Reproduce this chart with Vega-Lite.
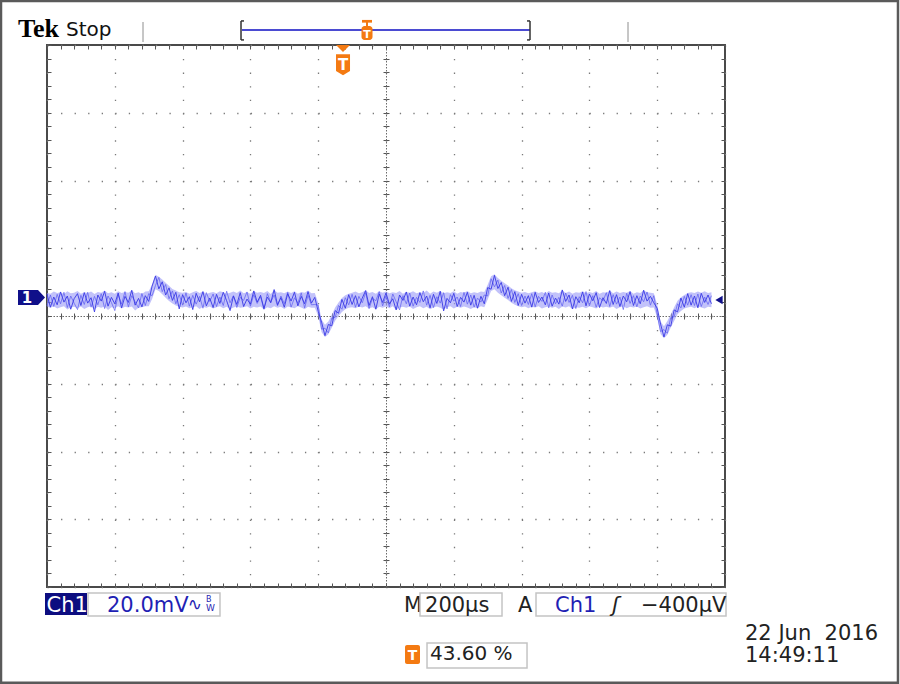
{
"$schema": "https://vega.github.io/schema/vega-lite/v6.json",
"width": 678, "height": 542,
"autosize": "none",
"padding": {"left": 47, "top": 45, "right": 175, "bottom": 97},
"background": "#ffffff",
"config": {"view": {"stroke": "#4a4a4a", "strokeWidth": 2}, "font": "DejaVu Sans"},
"datasets": {"trace": [
{"t":0,"v":6.5,"w":3.0,"lo":2.8,"hi":6.9},{"t":10,"v":2.6,"w":6.2,"lo":2.4,"hi":6.6},{"t":20,"v":5.6,"w":2.8,"lo":2.9,"hi":7.2},{"t":30,"v":3.3,"w":6.4,"lo":2.2,"hi":6.8},{"t":40,"v":7.1,"w":3.6,"lo":2.6,"hi":7.0},{"t":50,"v":4.1,"w":7.0,"lo":2.9,"hi":6.5},{"t":60,"v":5.9,"w":2.5,"lo":1.9,"hi":7.3},{"t":70,"v":2.0,"w":5.9,"lo":2.5,"hi":6.7},{"t":80,"v":5.1,"w":3.8,"lo":2.7,"hi":6.9},{"t":90,"v":6.6,"w":1.9,"lo":2.3,"hi":7.4},
{"t":100,"v":3.1,"w":6.1,"lo":2.8,"hi":6.6},{"t":110,"v":6.9,"w":3.4,"lo":2.1,"hi":7.0},{"t":120,"v":3.8,"w":7.0,"lo":2.6,"hi":6.8},{"t":130,"v":5.4,"w":2.6,"lo":2.9,"hi":7.2},{"t":140,"v":1.2,"w":5.8,"lo":2.0,"hi":6.5},{"t":150,"v":6.2,"w":3.3,"lo":2.7,"hi":7.1},{"t":160,"v":4.4,"w":6.6,"lo":2.4,"hi":6.9},{"t":170,"v":7.3,"w":2.2,"lo":2.8,"hi":7.5},{"t":180,"v":2.9,"w":5.9,"lo":1.8,"hi":6.7},{"t":190,"v":5.5,"w":4.0,"lo":2.6,"hi":7.0},
{"t":200,"v":3.6,"w":1.6,"lo":2.3,"hi":6.6},{"t":210,"v":6.8,"w":6.3,"lo":2.9,"hi":7.3},{"t":220,"v":2.4,"w":3.5,"lo":2.2,"hi":6.8},{"t":230,"v":5.8,"w":7.2,"lo":2.7,"hi":7.1},{"t":240,"v":4.0,"w":2.7,"lo":2.5,"hi":6.9},{"t":250,"v":7.6,"w":6.0,"lo":2.8,"hi":7.6},{"t":260,"v":3.2,"w":4.2,"lo":1.6,"hi":6.7},{"t":270,"v":5.2,"w":2.4,"lo":2.4,"hi":7.0},{"t":280,"v":2.7,"w":6.7,"lo":2.6,"hi":6.5},{"t":290,"v":6.0,"w":3.1,"lo":2.9,"hi":7.2},
{"t":300,"v":4.3,"w":6.6,"lo":2.9,"hi":7.3},{"t":310,"v":8.8,"w":6.0,"lo":5.0,"hi":9.3},{"t":320,"v":11.8,"w":9.0,"lo":7.9,"hi":12.2},{"t":330,"v":8.0,"w":11.4,"lo":7.4,"hi":11.6},{"t":340,"v":10.1,"w":7.2,"lo":6.4,"hi":10.8},{"t":350,"v":6.2,"w":9.3,"lo":5.4,"hi":9.8},{"t":360,"v":8.3,"w":5.1,"lo":4.4,"hi":8.9},{"t":370,"v":4.6,"w":7.4,"lo":3.7,"hi":8.0},{"t":380,"v":7.0,"w":3.6,"lo":3.1,"hi":7.5},{"t":390,"v":2.1,"w":6.3,"lo":2.7,"hi":7.0},
{"t":400,"v":6.3,"w":3.2,"lo":2.5,"hi":6.9},{"t":410,"v":3.9,"w":6.8,"lo":2.8,"hi":7.1},{"t":420,"v":5.7,"w":2.9,"lo":2.3,"hi":6.6},{"t":430,"v":1.9,"w":6.1,"lo":2.6,"hi":7.0},{"t":440,"v":6.7,"w":3.5,"lo":2.9,"hi":7.4},{"t":450,"v":4.2,"w":5.8,"lo":2.1,"hi":6.8},{"t":460,"v":7.2,"w":2.3,"lo":2.7,"hi":7.2},{"t":470,"v":3.0,"w":6.9,"lo":2.4,"hi":6.5},{"t":480,"v":5.3,"w":4.3,"lo":2.8,"hi":6.9},{"t":490,"v":2.5,"w":6.5,"lo":2.2,"hi":7.1},
{"t":500,"v":6.4,"w":2.8,"lo":2.6,"hi":6.7},{"t":510,"v":3.7,"w":5.6,"lo":2.9,"hi":7.3},{"t":520,"v":7.0,"w":3.1,"lo":2.3,"hi":7.0},{"t":530,"v":4.5,"w":7.3,"lo":2.7,"hi":6.6},{"t":540,"v":1.6,"w":3.9,"lo":2.0,"hi":6.9},{"t":550,"v":5.9,"w":6.0,"lo":2.5,"hi":7.2},{"t":560,"v":3.4,"w":2.5,"lo":2.8,"hi":6.8},{"t":570,"v":6.9,"w":5.5,"lo":2.4,"hi":7.5},{"t":580,"v":2.8,"w":4.6,"lo":2.6,"hi":6.7},{"t":590,"v":5.0,"w":7.1,"lo":2.9,"hi":7.0},
{"t":600,"v":3.5,"w":2.9,"lo":2.2,"hi":6.6},{"t":610,"v":7.4,"w":6.3,"lo":2.7,"hi":7.3},{"t":620,"v":4.1,"w":3.7,"lo":2.5,"hi":6.9},{"t":630,"v":6.1,"w":5.7,"lo":2.8,"hi":7.1},{"t":640,"v":2.2,"w":2.0,"lo":1.9,"hi":6.8},{"t":650,"v":5.6,"w":6.6,"lo":2.6,"hi":7.4},{"t":660,"v":3.9,"w":4.1,"lo":2.3,"hi":6.5},{"t":670,"v":7.8,"w":6.2,"lo":2.9,"hi":7.7},{"t":680,"v":3.3,"w":3.0,"lo":2.4,"hi":6.9},{"t":690,"v":5.4,"w":5.9,"lo":2.7,"hi":7.0},
{"t":700,"v":2.6,"w":3.6,"lo":2.1,"hi":6.7},{"t":710,"v":6.6,"w":7.0,"lo":2.8,"hi":7.2},{"t":720,"v":4.4,"w":2.6,"lo":2.6,"hi":6.8},{"t":730,"v":7.0,"w":5.4,"lo":2.3,"hi":7.3},{"t":740,"v":3.0,"w":3.8,"lo":2.9,"hi":6.6},{"t":750,"v":5.8,"w":6.8,"lo":2.5,"hi":7.1},{"t":760,"v":3.6,"w":2.4,"lo":2.0,"hi":6.9},{"t":770,"v":7.2,"w":6.1,"lo":2.7,"hi":7.5},{"t":780,"v":3.8,"w":3.3,"lo":2.4,"hi":6.7},{"t":790,"v":5.5,"w":3.4,"lo":2.4,"hi":6.8},
{"t":800,"v":1.4,"w":3.2,"lo":0.0,"hi":3.9},{"t":810,"v":-1.8,"w":-3.9,"lo":-4.8,"hi":-1.0},{"t":820,"v":-5.8,"w":-3.6,"lo":-6.2,"hi":-2.6},{"t":830,"v":-2.5,"w":-5.0,"lo":-5.4,"hi":-1.6},{"t":840,"v":-2.9,"w":-0.6,"lo":-3.5,"hi":0.4},{"t":850,"v":1.6,"w":-0.4,"lo":-1.4,"hi":2.5},{"t":860,"v":0.8,"w":3.1,"lo":0.0,"hi":4.0},{"t":870,"v":4.9,"w":2.0,"lo":1.2,"hi":5.3},{"t":880,"v":2.3,"w":5.4,"lo":2.0,"hi":6.1},{"t":890,"v":6.3,"w":3.3,"lo":2.4,"hi":6.6},
{"t":900,"v":3.4,"w":6.4,"lo":2.6,"hi":6.9},{"t":910,"v":6.0,"w":2.6,"lo":2.3,"hi":7.2},{"t":920,"v":2.7,"w":5.8,"lo":2.8,"hi":6.7},{"t":930,"v":5.3,"w":3.9,"lo":2.5,"hi":7.0},{"t":940,"v":7.5,"w":6.9,"lo":2.9,"hi":7.6},{"t":950,"v":3.1,"w":2.2,"lo":2.2,"hi":6.8},{"t":960,"v":5.7,"w":5.2,"lo":2.6,"hi":7.1},{"t":970,"v":2.0,"w":4.5,"lo":2.0,"hi":6.6},{"t":980,"v":6.5,"w":7.2,"lo":2.7,"hi":7.3},{"t":990,"v":4.0,"w":3.0,"lo":2.4,"hi":6.9},
{"t":1000,"v":6.8,"w":5.9,"lo":2.8,"hi":7.2},{"t":1010,"v":3.5,"w":2.7,"lo":2.3,"hi":6.7},{"t":1020,"v":5.1,"w":6.5,"lo":2.9,"hi":7.0},{"t":1030,"v":1.8,"w":4.2,"lo":1.8,"hi":6.8},{"t":1040,"v":6.2,"w":1.8,"lo":2.5,"hi":7.4},{"t":1050,"v":4.6,"w":6.0,"lo":2.7,"hi":6.6},{"t":1060,"v":7.1,"w":3.6,"lo":2.4,"hi":7.1},{"t":1070,"v":2.9,"w":6.8,"lo":2.8,"hi":6.9},{"t":1080,"v":5.6,"w":2.9,"lo":2.1,"hi":7.3},{"t":1090,"v":3.3,"w":5.5,"lo":2.6,"hi":6.7},
{"t":1100,"v":6.9,"w":4.0,"lo":2.9,"hi":7.0},{"t":1110,"v":4.2,"w":7.4,"lo":2.3,"hi":6.8},{"t":1120,"v":5.9,"w":3.2,"lo":2.7,"hi":7.5},{"t":1130,"v":2.4,"w":6.1,"lo":2.0,"hi":6.6},{"t":1140,"v":6.4,"w":2.5,"lo":2.5,"hi":7.2},{"t":1150,"v":3.7,"w":5.7,"lo":2.8,"hi":6.9},{"t":1160,"v":7.3,"w":3.8,"lo":2.4,"hi":7.4},{"t":1170,"v":1.5,"w":6.9,"lo":1.9,"hi":6.7},{"t":1180,"v":5.2,"w":2.1,"lo":2.6,"hi":7.0},{"t":1190,"v":3.9,"w":6.3,"lo":2.9,"hi":6.8},
{"t":1200,"v":6.7,"w":4.4,"lo":2.2,"hi":7.3},{"t":1210,"v":2.8,"w":5.6,"lo":2.7,"hi":6.6},{"t":1220,"v":5.5,"w":2.8,"lo":2.4,"hi":7.1},{"t":1230,"v":4.1,"w":7.0,"lo":2.8,"hi":6.9},{"t":1240,"v":7.0,"w":3.5,"lo":2.5,"hi":7.4},{"t":1250,"v":3.2,"w":6.2,"lo":2.1,"hi":6.7},{"t":1260,"v":6.1,"w":2.6,"lo":2.6,"hi":7.0},{"t":1270,"v":2.3,"w":5.3,"lo":2.3,"hi":6.8},{"t":1280,"v":5.8,"w":4.1,"lo":2.9,"hi":7.2},{"t":1290,"v":3.6,"w":6.2,"lo":2.6,"hi":7.1},
{"t":1300,"v":8.4,"w":5.9,"lo":4.9,"hi":9.2},{"t":1310,"v":7.9,"w":11.0,"lo":7.4,"hi":11.7},{"t":1320,"v":12.0,"w":8.6,"lo":7.9,"hi":12.3},{"t":1330,"v":8.1,"w":10.6,"lo":6.9,"hi":11.2},{"t":1340,"v":9.9,"w":6.8,"lo":6.1,"hi":10.4},{"t":1350,"v":6.0,"w":9.0,"lo":5.4,"hi":9.7},{"t":1360,"v":8.5,"w":5.2,"lo":4.7,"hi":9.0},{"t":1370,"v":4.3,"w":7.8,"lo":3.9,"hi":8.2},{"t":1380,"v":7.2,"w":4.0,"lo":3.3,"hi":7.6},{"t":1390,"v":3.1,"w":6.6,"lo":2.9,"hi":7.2},
{"t":1400,"v":6.4,"w":3.1,"lo":2.6,"hi":6.9},{"t":1410,"v":3.8,"w":5.9,"lo":2.8,"hi":7.1},{"t":1420,"v":6.0,"w":3.4,"lo":2.3,"hi":6.7},{"t":1430,"v":2.6,"w":6.6,"lo":2.7,"hi":7.0},{"t":1440,"v":7.0,"w":2.7,"lo":2.5,"hi":7.3},{"t":1450,"v":4.0,"w":5.8,"lo":2.9,"hi":6.8},{"t":1460,"v":5.6,"w":4.3,"lo":2.2,"hi":7.1},{"t":1470,"v":3.3,"w":7.0,"lo":2.6,"hi":6.6},{"t":1480,"v":6.8,"w":2.4,"lo":2.8,"hi":7.4},{"t":1490,"v":2.9,"w":6.2,"lo":2.4,"hi":6.9},
{"t":1500,"v":5.3,"w":3.6,"lo":2.7,"hi":7.0},{"t":1510,"v":3.5,"w":5.5,"lo":2.1,"hi":6.7},{"t":1520,"v":7.7,"w":2.9,"lo":2.8,"hi":7.6},{"t":1530,"v":4.3,"w":6.8,"lo":2.5,"hi":6.8},{"t":1540,"v":6.2,"w":4.0,"lo":2.9,"hi":7.2},{"t":1550,"v":2.1,"w":6.1,"lo":2.0,"hi":6.6},{"t":1560,"v":5.7,"w":2.2,"lo":2.6,"hi":7.0},{"t":1570,"v":3.9,"w":5.7,"lo":2.4,"hi":6.9},{"t":1580,"v":7.1,"w":3.9,"lo":2.7,"hi":7.3},{"t":1590,"v":3.0,"w":7.2,"lo":2.3,"hi":6.7},
{"t":1600,"v":6.5,"w":3.0,"lo":2.8,"hi":7.1},{"t":1610,"v":4.5,"w":6.0,"lo":2.6,"hi":6.8},{"t":1620,"v":6.9,"w":2.6,"lo":2.2,"hi":7.4},{"t":1630,"v":2.5,"w":5.4,"lo":2.9,"hi":6.6},{"t":1640,"v":5.4,"w":4.4,"lo":2.5,"hi":7.0},{"t":1650,"v":3.7,"w":6.9,"lo":2.7,"hi":6.9},{"t":1660,"v":7.5,"w":2.8,"lo":2.4,"hi":7.5},{"t":1670,"v":3.4,"w":6.3,"lo":2.8,"hi":6.7},{"t":1680,"v":6.3,"w":3.5,"lo":2.1,"hi":7.2},{"t":1690,"v":2.8,"w":5.6,"lo":2.6,"hi":6.8},
{"t":1700,"v":5.9,"w":1.9,"lo":2.9,"hi":7.1},{"t":1710,"v":4.2,"w":6.7,"lo":2.3,"hi":6.9},{"t":1720,"v":7.2,"w":3.7,"lo":2.7,"hi":7.4},{"t":1730,"v":3.1,"w":6.0,"lo":2.5,"hi":6.6},{"t":1740,"v":6.0,"w":2.7,"lo":2.8,"hi":7.0},{"t":1750,"v":3.6,"w":5.9,"lo":2.2,"hi":6.8},{"t":1760,"v":7.6,"w":4.2,"lo":2.6,"hi":7.6},{"t":1770,"v":4.4,"w":7.1,"lo":2.9,"hi":7.0},{"t":1780,"v":5.8,"w":3.2,"lo":2.4,"hi":6.9},{"t":1790,"v":3.9,"w":6.0,"lo":2.5,"hi":6.7},
{"t":1800,"v":2.3,"w":0.4,"lo":-0.5,"hi":3.4},{"t":1810,"v":-2.4,"w":-4.6,"lo":-5.3,"hi":-1.6},{"t":1820,"v":-6.2,"w":-4.0,"lo":-6.6,"hi":-3.0},{"t":1830,"v":-2.6,"w":-5.1,"lo":-5.5,"hi":-1.5},{"t":1840,"v":-3.0,"w":-0.5,"lo":-3.4,"hi":0.5},{"t":1850,"v":1.8,"w":-0.2,"lo":-1.5,"hi":2.6},{"t":1860,"v":1.2,"w":3.6,"lo":0.5,"hi":4.5},{"t":1870,"v":5.3,"w":2.4,"lo":1.5,"hi":5.5},{"t":1880,"v":2.6,"w":5.8,"lo":2.2,"hi":6.2},{"t":1890,"v":6.6,"w":3.2,"lo":2.5,"hi":6.8},
{"t":1900,"v":3.2,"w":6.3,"lo":2.7,"hi":7.0},{"t":1910,"v":5.9,"w":3.1,"lo":2.3,"hi":6.8},{"t":1920,"v":2.4,"w":6.5,"lo":2.8,"hi":7.2},{"t":1930,"v":6.7,"w":2.8,"lo":2.5,"hi":6.9},{"t":1940,"v":4.0,"w":5.6,"lo":2.2,"hi":7.3},{"t":1950,"v":6.2,"w":3.4,"lo":2.7,"hi":6.8},{"t":1960,"v":3.6,"w":6.0,"lo":2.6,"hi":7.0}
]},
"resolve": {"scale": {"x": "shared", "y": "shared"}, "axis": {"x": "independent", "y": "independent"}},
"layer": [
{"data": {"name": "trace"},
 "mark": {"type": "area", "color": "#9a9af7", "opacity": 0.6},
 "encoding": {
  "x": {"field": "t", "type": "quantitative", "scale": {"domain": [0, 2000], "nice": false, "zero": false},
        "axis": {"orient": "bottom", "values": [0,200,400,600,800,1000,1200,1400,1600,1800,2000], "grid": true, "gridColor": "#7a7a7a", "gridWidth": 1.3, "gridDash": [1.3, 12.25], "domain": false, "ticks": false, "labels": false, "title": null}},
  "y": {"field": "lo", "type": "quantitative", "scale": {"domain": [-80, 80], "nice": false, "zero": false},
        "axis": {"orient": "left", "values": [-80,-60,-40,-20,0,20,40,60,80], "grid": true, "gridColor": "#7a7a7a", "gridWidth": 1.3, "gridDash": [1.3, 12.25], "domain": false, "ticks": false, "labels": false, "title": null}},
  "y2": {"field": "hi"}}},
{"data": {"name": "trace"},
 "mark": {"type": "line", "color": "#6262f0", "strokeWidth": 1, "opacity": 0.75},
 "encoding": {
  "x": {"field": "t", "type": "quantitative",
        "axis": {"orient": "bottom", "values": [0,40,80,120,160,200,240,280,320,360,400,440,480,520,560,600,640,680,720,760,800,840,880,920,960,1000,1040,1080,1120,1160,1200,1240,1280,1320,1360,1400,1440,1480,1520,1560,1600,1640,1680,1720,1760,1800,1840,1880,1920,1960,2000], "grid": false, "domain": false, "ticks": true, "tickSize": -4, "tickColor": "#555555", "tickWidth": 1, "labels": false, "title": null}},
  "y": {"field": "w", "type": "quantitative",
        "axis": {"orient": "left", "values": [-80,-76,-72,-68,-64,-60,-56,-52,-48,-44,-40,-36,-32,-28,-24,-20,-16,-12,-8,-4,0,4,8,12,16,20,24,28,32,36,40,44,48,52,56,60,64,68,72,76,80], "grid": false, "domain": false, "ticks": true, "tickSize": -4, "tickColor": "#555555", "tickWidth": 1, "labels": false, "title": null}}}},
{"data": {"name": "trace"},
 "mark": {"type": "line", "color": "#3838e4", "strokeWidth": 1, "opacity": 0.9},
 "encoding": {
  "x": {"field": "t", "type": "quantitative", "axis": null},
  "y": {"field": "v", "type": "quantitative", "axis": null}}},
{"data": {"values": [{}]},
 "mark": {"type": "rect", "filled": false, "stroke": "#5a5a5a", "strokeWidth": 2.5},
 "encoding": {
  "x": {"datum": -135.7, "type": "quantitative",
        "axis": {"orient": "top", "values": [0,40,80,120,160,200,240,280,320,360,400,440,480,520,560,600,640,680,720,760,800,840,880,920,960,1000,1040,1080,1120,1160,1200,1240,1280,1320,1360,1400,1440,1480,1520,1560,1600,1640,1680,1720,1760,1800,1840,1880,1920,1960,2000], "grid": false, "domain": false, "ticks": true, "tickSize": -4, "tickColor": "#555555", "tickWidth": 1, "labels": false, "title": null}},
  "x2": {"datum": 2510.3},
  "y": {"datum": 93.0, "type": "quantitative",
        "axis": {"orient": "right", "values": [-80,-76,-72,-68,-64,-60,-56,-52,-48,-44,-40,-36,-32,-28,-24,-20,-16,-12,-8,-4,0,4,8,12,16,20,24,28,32,36,40,44,48,52,56,60,64,68,72,76,80], "grid": false, "domain": false, "ticks": true, "tickSize": -4, "tickColor": "#555555", "tickWidth": 1, "labels": false, "title": null}},
  "y2": {"datum": -108.3}}},
{"data": {"values": [{}]},
 "mark": {"type": "text", "text": "Tek", "font": "Liberation Serif", "fontSize": 26, "fontWeight": "bold", "align": "left", "baseline": "alphabetic", "color": "#000000"},
 "encoding": {
  "x": {"datum": -85.5, "type": "quantitative",
        "axis": {"orient": "bottom", "offset": -271, "values": [0,40,80,120,160,200,240,280,320,360,400,440,480,520,560,600,640,680,720,760,800,840,880,920,960,1000,1040,1080,1120,1160,1200,1240,1280,1320,1360,1400,1440,1480,1520,1560,1600,1640,1680,1720,1760,1800,1840,1880,1920,1960,2000], "grid": false, "domain": true, "domainColor": "#6a6a6a", "domainWidth": 1, "domainDash": [1.5, 1.5], "ticks": true, "tickSize": 3, "tickColor": "#555555", "tickWidth": 1, "labels": false, "title": null}},
  "y": {"datum": 82.3, "type": "quantitative",
        "axis": {"orient": "left", "offset": -339, "values": [-80,-76,-72,-68,-64,-60,-56,-52,-48,-44,-40,-36,-32,-28,-24,-20,-16,-12,-8,-4,0,4,8,12,16,20,24,28,32,36,40,44,48,52,56,60,64,68,72,76,80], "grid": false, "domain": true, "domainColor": "#6a6a6a", "domainWidth": 1, "domainDash": [1.5, 1.5], "ticks": true, "tickSize": 3, "tickColor": "#555555", "tickWidth": 1, "labels": false, "title": null}}}},
{"data": {"values": [{}]},
 "mark": {"type": "text", "text": "Stop", "fontSize": 20, "align": "left", "baseline": "alphabetic", "color": "#111111"},
 "encoding": {
  "x": {"datum": 56.0, "type": "quantitative",
        "axis": {"orient": "top", "offset": -271, "values": [0,40,80,120,160,200,240,280,320,360,400,440,480,520,560,600,640,680,720,760,800,840,880,920,960,1000,1040,1080,1120,1160,1200,1240,1280,1320,1360,1400,1440,1480,1520,1560,1600,1640,1680,1720,1760,1800,1840,1880,1920,1960,2000], "grid": false, "domain": false, "ticks": true, "tickSize": 3, "tickColor": "#555555", "tickWidth": 1, "labels": false, "title": null}},
  "y": {"datum": 82.7, "type": "quantitative",
        "axis": {"orient": "right", "offset": -339, "values": [-80,-76,-72,-68,-64,-60,-56,-52,-48,-44,-40,-36,-32,-28,-24,-20,-16,-12,-8,-4,0,4,8,12,16,20,24,28,32,36,40,44,48,52,56,60,64,68,72,76,80], "grid": false, "domain": false, "ticks": true, "tickSize": 3, "tickColor": "#555555", "tickWidth": 1, "labels": false, "title": null}}}},
{"data": {"values": [{}]}, "mark": {"type": "rule", "color": "#b4b4b4", "strokeWidth": 1.5},
 "encoding": {"x": {"datum": 283.2, "type": "quantitative", "axis": null}, "y": {"datum": 86.8, "type": "quantitative", "axis": null}, "y2": {"datum": 80.9}}},
{"data": {"values": [{}]}, "mark": {"type": "rule", "color": "#b4b4b4", "strokeWidth": 1.5},
 "encoding": {"x": {"datum": 1713.9, "type": "quantitative", "axis": null}, "y": {"datum": 86.8, "type": "quantitative", "axis": null}, "y2": {"datum": 80.9}}},
{"data": {"values": [{}]}, "mark": {"type": "rule", "color": "#4b4bd2", "strokeWidth": 2},
 "encoding": {"x": {"datum": 575.2, "type": "quantitative", "axis": null}, "x2": {"datum": 1424.8}, "y": {"datum": 84.4, "type": "quantitative", "axis": null}}},
{"data": {"values": [{}]}, "mark": {"type": "rule", "color": "#333333", "strokeWidth": 1.5},
 "encoding": {"x": {"datum": 572.3, "type": "quantitative", "axis": null}, "y": {"datum": 87.1, "type": "quantitative", "axis": null}, "y2": {"datum": 81.5}}},
{"data": {"values": [{}]}, "mark": {"type": "rule", "color": "#333333", "strokeWidth": 1.5},
 "encoding": {"x": {"datum": 572.3, "type": "quantitative", "axis": null}, "x2": {"datum": 581.1}, "y": {"datum": 87.1, "type": "quantitative", "axis": null}}},
{"data": {"values": [{}]}, "mark": {"type": "rule", "color": "#333333", "strokeWidth": 1.5},
 "encoding": {"x": {"datum": 572.3, "type": "quantitative", "axis": null}, "x2": {"datum": 581.1}, "y": {"datum": 81.5, "type": "quantitative", "axis": null}}},
{"data": {"values": [{}]}, "mark": {"type": "rule", "color": "#333333", "strokeWidth": 1.5},
 "encoding": {"x": {"datum": 1424.8, "type": "quantitative", "axis": null}, "y": {"datum": 87.1, "type": "quantitative", "axis": null}, "y2": {"datum": 81.5}}},
{"data": {"values": [{}]}, "mark": {"type": "rule", "color": "#333333", "strokeWidth": 1.5},
 "encoding": {"x": {"datum": 1416.0, "type": "quantitative", "axis": null}, "x2": {"datum": 1424.8}, "y": {"datum": 87.1, "type": "quantitative", "axis": null}}},
{"data": {"values": [{}]}, "mark": {"type": "rule", "color": "#333333", "strokeWidth": 1.5},
 "encoding": {"x": {"datum": 1416.0, "type": "quantitative", "axis": null}, "x2": {"datum": 1424.8}, "y": {"datum": 81.5, "type": "quantitative", "axis": null}}},
{"data": {"values": [{}]}, "mark": {"type": "rect", "color": "#f47a12"},
 "encoding": {"x": {"datum": 929.2, "type": "quantitative", "axis": null}, "x2": {"datum": 958.7}, "y": {"datum": 87.4, "type": "quantitative", "axis": null}, "y2": {"datum": 86.6}}},
{"data": {"values": [{}]}, "mark": {"type": "rect", "color": "#f47a12"},
 "encoding": {"x": {"datum": 941.0, "type": "quantitative", "axis": null}, "x2": {"datum": 946.9}, "y": {"datum": 86.8, "type": "quantitative", "axis": null}, "y2": {"datum": 85.6}}},
{"data": {"values": [{}]}, "mark": {"type": "rect", "color": "#f47a12", "cornerRadius": 3},
 "encoding": {"x": {"datum": 927.7, "type": "quantitative", "axis": null}, "x2": {"datum": 960.2}, "y": {"datum": 85.6, "type": "quantitative", "axis": null}, "y2": {"datum": 81.5}}},
{"data": {"values": [{}]}, "mark": {"type": "text", "text": "T", "fontSize": 11, "fontWeight": "bold", "align": "center", "baseline": "alphabetic", "color": "#ffffff"},
 "encoding": {"x": {"datum": 944.0, "type": "quantitative", "axis": null}, "y": {"datum": 82.2, "type": "quantitative", "axis": null}}},
{"data": {"values": [{}]}, "mark": {"type": "point", "shape": "M-1,-0.5L1,-0.5L0,0.5Z", "size": 196, "filled": true, "color": "#f47a12", "opacity": 1, "strokeWidth": 0},
 "encoding": {"x": {"datum": 873.2, "type": "quantitative", "axis": null}, "y": {"datum": 79.0, "type": "quantitative", "axis": null}}},
{"data": {"values": [{}]}, "mark": {"type": "point", "shape": "M-0.667,-1L0.667,-1L0.667,0.6L0,1L-0.667,0.6Z", "size": 441, "filled": true, "color": "#f47a12", "opacity": 1, "strokeWidth": 0},
 "encoding": {"x": {"datum": 873.2, "type": "quantitative", "axis": null}, "y": {"datum": 74.2, "type": "quantitative", "axis": null}}},
{"data": {"values": [{}]}, "mark": {"type": "text", "text": "T", "fontSize": 15, "fontWeight": "bold", "align": "center", "baseline": "alphabetic", "color": "#ffffff"},
 "encoding": {"x": {"datum": 873.2, "type": "quantitative", "axis": null}, "y": {"datum": 72.6, "type": "quantitative", "axis": null}}},
{"data": {"values": [{}]}, "mark": {"type": "point", "shape": "M-1,-0.556L0.48,-0.556L1,0L0.48,0.556L-1,0.556Z", "size": 729, "filled": true, "color": "#10108a", "opacity": 1, "strokeWidth": 0},
 "encoding": {"x": {"datum": -45.7, "type": "quantitative", "axis": null}, "y": {"datum": 5.46, "type": "quantitative", "axis": null}}},
{"data": {"values": [{}]}, "mark": {"type": "text", "text": "1", "fontSize": 15, "fontWeight": "bold", "align": "center", "baseline": "alphabetic", "color": "#ffffff"},
 "encoding": {"x": {"datum": -59.0, "type": "quantitative", "axis": null}, "y": {"datum": 3.7, "type": "quantitative", "axis": null}}},
{"data": {"values": [{}]}, "mark": {"type": "point", "shape": "triangle-left", "size": 70, "filled": true, "color": "#10108a", "opacity": 1, "strokeWidth": 0},
 "encoding": {"x": {"datum": 1982.3, "type": "quantitative", "axis": null}, "y": {"datum": 4.72, "type": "quantitative", "axis": null}}},
{"data": {"values": [{}]}, "mark": {"type": "rect", "color": "#0d0d80"},
 "encoding": {"x": {"datum": -5.9, "type": "quantitative", "axis": null}, "x2": {"datum": 118.0}, "y": {"datum": -81.77, "type": "quantitative", "axis": null}, "y2": {"datum": -88.26}}},
{"data": {"values": [{}]}, "mark": {"type": "text", "text": "Ch1", "fontSize": 21, "align": "left", "baseline": "alphabetic", "color": "#ffffff"},
 "encoding": {"x": {"datum": -1.5, "type": "quantitative", "axis": null}, "y": {"datum": -87.38, "type": "quantitative", "axis": null}}},
{"data": {"values": [{}]}, "mark": {"type": "rect", "fill": "#ffffff", "stroke": "#c4c4c4", "strokeWidth": 1.5},
 "encoding": {"x": {"datum": 120.9, "type": "quantitative", "axis": null}, "x2": {"datum": 510.3}, "y": {"datum": -81.77, "type": "quantitative", "axis": null}, "y2": {"datum": -88.56}}},
{"data": {"values": [{}]}, "mark": {"type": "text", "text": "20.0mV", "fontSize": 21, "align": "left", "baseline": "alphabetic", "color": "#1f1fb4"},
 "encoding": {"x": {"datum": 177.0, "type": "quantitative", "axis": null}, "y": {"datum": -87.38, "type": "quantitative", "axis": null}}},
{"data": {"values": [{}]}, "mark": {"type": "text", "text": "∿", "fontSize": 17, "align": "left", "baseline": "alphabetic", "color": "#1f1fb4"},
 "encoding": {"x": {"datum": 415.0, "type": "quantitative", "axis": null}, "y": {"datum": -86.7, "type": "quantitative", "axis": null}}},
{"data": {"values": [{}]}, "mark": {"type": "text", "text": "B", "fontSize": 8, "align": "left", "baseline": "alphabetic", "color": "#1f1fb4"},
 "encoding": {"x": {"datum": 469.0, "type": "quantitative", "axis": null}, "y": {"datum": -84.4, "type": "quantitative", "axis": null}}},
{"data": {"values": [{}]}, "mark": {"type": "text", "text": "W", "fontSize": 9, "align": "left", "baseline": "alphabetic", "color": "#1f1fb4"},
 "encoding": {"x": {"datum": 469.0, "type": "quantitative", "axis": null}, "y": {"datum": -87.2, "type": "quantitative", "axis": null}}},
{"data": {"values": [{}]}, "mark": {"type": "text", "text": "M", "fontSize": 21, "align": "left", "baseline": "alphabetic", "color": "#222222"},
 "encoding": {"x": {"datum": 1053.1, "type": "quantitative", "axis": null}, "y": {"datum": -87.38, "type": "quantitative", "axis": null}}},
{"data": {"values": [{}]}, "mark": {"type": "rect", "fill": "#ffffff", "stroke": "#c4c4c4", "strokeWidth": 1.5},
 "encoding": {"x": {"datum": 1100.3, "type": "quantitative", "axis": null}, "x2": {"datum": 1342.2}, "y": {"datum": -81.77, "type": "quantitative", "axis": null}, "y2": {"datum": -88.56}}},
{"data": {"values": [{}]}, "mark": {"type": "text", "text": "200µs", "fontSize": 21, "align": "left", "baseline": "alphabetic", "color": "#222222"},
 "encoding": {"x": {"datum": 1115.1, "type": "quantitative", "axis": null}, "y": {"datum": -87.38, "type": "quantitative", "axis": null}}},
{"data": {"values": [{}]}, "mark": {"type": "text", "text": "A", "fontSize": 21, "align": "left", "baseline": "alphabetic", "color": "#222222"},
 "encoding": {"x": {"datum": 1389.4, "type": "quantitative", "axis": null}, "y": {"datum": -87.38, "type": "quantitative", "axis": null}}},
{"data": {"values": [{}]}, "mark": {"type": "rect", "fill": "#ffffff", "stroke": "#c4c4c4", "strokeWidth": 1.5},
 "encoding": {"x": {"datum": 1442.5, "type": "quantitative", "axis": null}, "x2": {"datum": 2003.0}, "y": {"datum": -81.77, "type": "quantitative", "axis": null}, "y2": {"datum": -88.56}}},
{"data": {"values": [{}]}, "mark": {"type": "text", "text": "Ch1", "fontSize": 21, "align": "left", "baseline": "alphabetic", "color": "#1f1fb4"},
 "encoding": {"x": {"datum": 1498.6, "type": "quantitative", "axis": null}, "y": {"datum": -87.38, "type": "quantitative", "axis": null}}},
{"data": {"values": [{}]}, "mark": {"type": "text", "text": "ʃ", "fontSize": 21, "fontStyle": "italic", "align": "left", "baseline": "alphabetic", "color": "#222222"},
 "encoding": {"x": {"datum": 1666.7, "type": "quantitative", "axis": null}, "y": {"datum": -87.38, "type": "quantitative", "axis": null}}},
{"data": {"values": [{}]}, "mark": {"type": "text", "text": "−400µV", "fontSize": 21, "align": "left", "baseline": "alphabetic", "color": "#222222"},
 "encoding": {"x": {"datum": 1752.2, "type": "quantitative", "axis": null}, "y": {"datum": -87.38, "type": "quantitative", "axis": null}}},
{"data": {"values": [{}]}, "mark": {"type": "rect", "color": "#f47a12", "cornerRadius": 2},
 "encoding": {"x": {"datum": 1056.1, "type": "quantitative", "axis": null}, "x2": {"datum": 1100.3}, "y": {"datum": -97.1, "type": "quantitative", "axis": null}, "y2": {"datum": -102.7}}},
{"data": {"values": [{}]}, "mark": {"type": "text", "text": "T", "fontSize": 14, "fontWeight": "bold", "align": "center", "baseline": "alphabetic", "color": "#ffffff"},
 "encoding": {"x": {"datum": 1078.3, "type": "quantitative", "axis": null}, "y": {"datum": -101.6, "type": "quantitative", "axis": null}}},
{"data": {"values": [{}]}, "mark": {"type": "rect", "fill": "#ffffff", "stroke": "#c4c4c4", "strokeWidth": 1.5},
 "encoding": {"x": {"datum": 1121.0, "type": "quantitative", "axis": null}, "x2": {"datum": 1416.0}, "y": {"datum": -96.5, "type": "quantitative", "axis": null}, "y2": {"datum": -103.9}}},
{"data": {"values": [{}]}, "mark": {"type": "text", "text": "43.60 %", "fontSize": 20, "align": "left", "baseline": "alphabetic", "color": "#222222"},
 "encoding": {"x": {"datum": 1129.8, "type": "quantitative", "axis": null}, "y": {"datum": -101.55, "type": "quantitative", "axis": null}}},
{"data": {"values": [{}]}, "mark": {"type": "text", "text": "22 Jun \u00a02016", "fontSize": 21, "align": "left", "baseline": "alphabetic", "color": "#222222"},
 "encoding": {"x": {"datum": 2059.0, "type": "quantitative", "axis": null}, "y": {"datum": -95.64, "type": "quantitative", "axis": null}}},
{"data": {"values": [{}]}, "mark": {"type": "text", "text": "14:49:11", "fontSize": 21, "align": "left", "baseline": "alphabetic", "color": "#222222"},
 "encoding": {"x": {"datum": 2059.0, "type": "quantitative", "axis": null}, "y": {"datum": -102.1, "type": "quantitative", "axis": null}}}
]
}
